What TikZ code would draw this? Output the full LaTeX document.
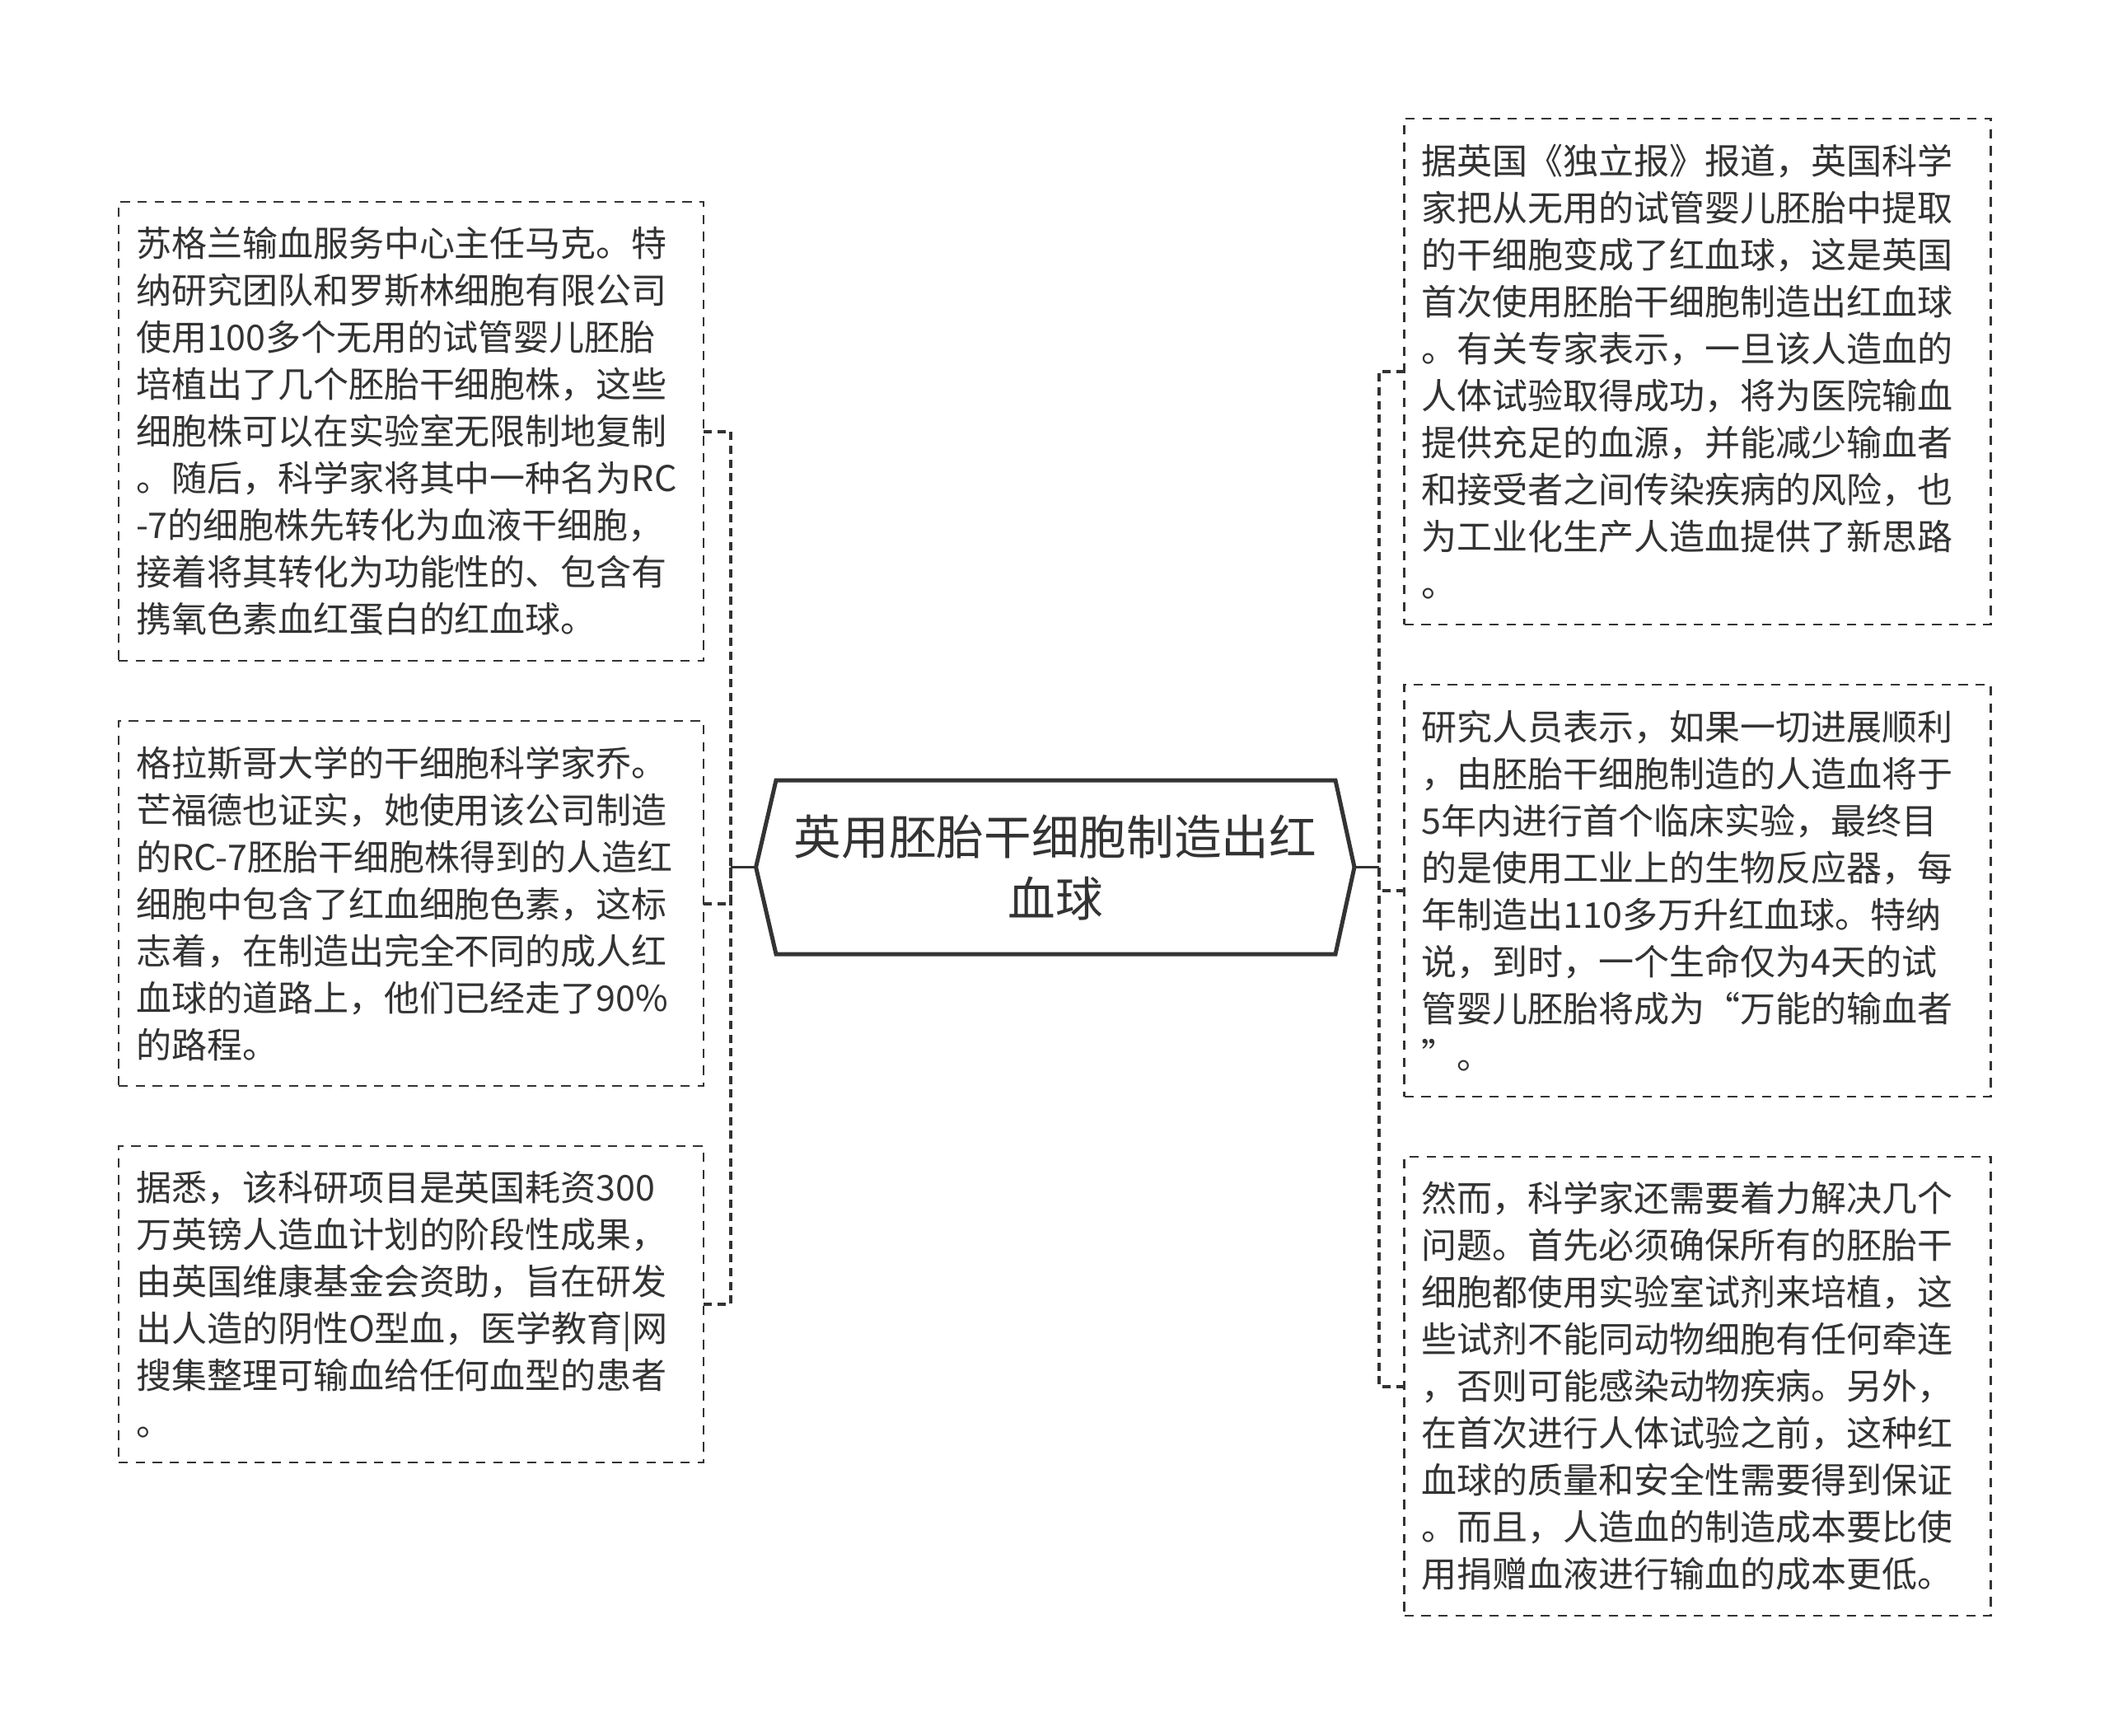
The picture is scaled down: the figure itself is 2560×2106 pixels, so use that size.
\documentclass[tikz,border=0pt]{standalone}
\usepackage{fontspec}
\setmainfont{Noto Sans CJK SC}
\definecolor{ink}{HTML}{333333}
\begin{document}
\begin{tikzpicture}[x=0.3pt,y=-0.3pt,
  boxbase/.style={draw=ink, line width=0.75pt, dash pattern=on 3.4pt off 2.8pt,
    inner xsep=6.3pt, inner ysep=0pt, outer sep=0pt, align=left, text=ink,
    font=\fontsize{12.9pt}{17.1pt}\selectfont},
  lbox/.style={boxbase, text width=200.4pt},
  rbox/.style={boxbase, text width=201pt},
  hexa/.style={draw=ink, line width=1.5pt, line join=miter, fill=white},
  ctext/.style={align=center, text=ink, inner sep=0pt,
    font=\fontsize{17.3pt}{22.5pt}\selectfont},
  trunk/.style={draw=ink, line width=0.9pt},
  branch/.style={draw=ink, line width=1.2pt, dash pattern=on 3pt off 2pt}
]
\fill[white] (0,0) rectangle (2560,2106);
\useasboundingbox (0,0) rectangle (2560,2106);

% left boxes
\node[lbox, minimum height=167.1pt] (L1) at (499,523.5) {苏格兰输血服务中心主任马克。特\\纳研究团队和罗斯林细胞有限公司\\使用100多个无用的试管婴儿胚胎\\培植出了几个胚胎干细胞株，这些\\细胞株可以在实验室无限制地复制\\。随后，科学家将其中一种名为RC\\-7的细胞株先转化为血液干细胞，\\接着将其转化为功能性的、包含有\\携氧色素血红蛋白的红血球。};
\node[lbox, minimum height=132.9pt] (L2) at (499,1096.5) {格拉斯哥大学的干细胞科学家乔。\\芒福德也证实，她使用该公司制造\\的RC-7胚胎干细胞株得到的人造红\\细胞中包含了红血细胞色素，这标\\志着，在制造出完全不同的成人红\\血球的道路上，他们已经走了90\%\\的路程。};
\node[lbox, minimum height=115.2pt] (L3) at (499,1583) {据悉，该科研项目是英国耗资300\\万英镑人造血计划的阶段性成果，\\由英国维康基金会资助，旨在研发\\出人造的阴性O型血，医学教育|网\\搜集整理可输血给任何血型的患者\\。};

% right boxes
\node[rbox, minimum height=184.2pt] (R1) at (2060.5,451) {据英国《独立报》报道，英国科学\\家把从无用的试管婴儿胚胎中提取\\的干细胞变成了红血球，这是英国\\首次使用胚胎干细胞制造出红血球\\。有关专家表示，一旦该人造血的\\人体试验取得成功，将为医院输血\\提供充足的血源，并能减少输血者\\和接受者之间传染疾病的风险，也\\为工业化生产人造血提供了新思路\\。};
\node[rbox, minimum height=150pt] (R2) at (2060.5,1081) {研究人员表示，如果一切进展顺利\\，由胚胎干细胞制造的人造血将于\\5年内进行首个临床实验，最终目\\的是使用工业上的生物反应器，每\\年制造出110多万升红血球。特纳\\说，到时，一个生命仅为4天的试\\管婴儿胚胎将成为“万能的输血者\\”。};
\node[rbox, minimum height=167.1pt] (R3) at (2060.5,1682.5) {然而，科学家还需要着力解决几个\\问题。首先必须确保所有的胚胎干\\细胞都使用实验室试剂来培植，这\\些试剂不能同动物细胞有任何牵连\\，否则可能感染动物疾病。另外，\\在首次进行人体试验之前，这种红\\血球的质量和安全性需要得到保证\\。而且，人造血的制造成本要比使\\用捐赠血液进行输血的成本更低。};

% central node
\coordinate (cW) at (917.6,1052.5);
\coordinate (cE) at (1644,1052.5);
\coordinate (jL) at (886.6,1052.5);
\coordinate (jR) at (1673.5,1052.5);
\draw[hexa] (cW) -- (942,947) -- (1621,947) -- (cE) -- (1621,1158) -- (942,1158) -- cycle;
\node[ctext] (c) at (1281,1052.5) {英用胚胎干细胞制造出红\\血球};

% connectors
\draw[trunk] (cW) -- (jL);
\draw[trunk] (cE) -- (jR);
\draw[branch] (L1.east) -| (jL);
\draw[branch] (L2.east) -| (jL);
\draw[branch] (L3.east) -| (jL);
\draw[branch] (R1.west) -| (jR);
\draw[branch] (R2.west) -| (jR);
\draw[branch] (R3.west) -| (jR);
\end{tikzpicture}
\end{document}
